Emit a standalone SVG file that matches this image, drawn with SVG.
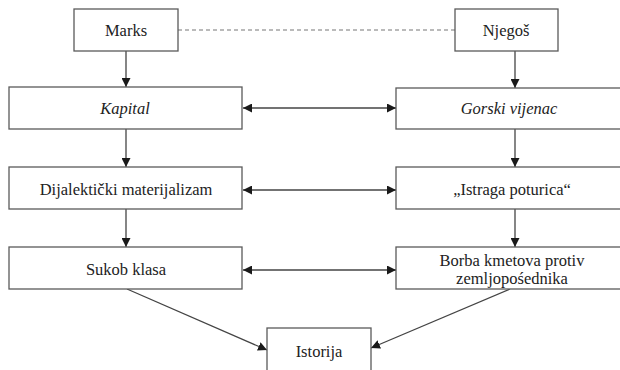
<svg xmlns="http://www.w3.org/2000/svg" width="620" height="370" viewBox="0 0 620 370">
<style>
.box{fill:#fff;stroke:#5a5a5a;stroke-width:1.3}
.t{font-family:"Liberation Serif","DejaVu Serif",serif;font-size:16.5px;fill:#222;text-anchor:middle;dominant-baseline:central}
.i{font-style:italic}
.c{stroke:#444;stroke-width:1.3;fill:none}
.d{stroke:#777;stroke-width:1.1;stroke-dasharray:4 3;fill:none}
</style>
<defs>
<marker id="ah" viewBox="0 0 10 10" refX="10" refY="5" markerWidth="9" markerHeight="9" markerUnits="userSpaceOnUse" orient="auto-start-reverse">
<path d="M0,0 L10,5 L0,10 z" fill="#1a1a1a"/>
</marker>
</defs>
<rect width="620" height="370" fill="#fff"/>
<g id="connectors">
<line class="d" x1="178" y1="30" x2="455" y2="30"/>
<line class="c" x1="126" y1="51" x2="126" y2="87" marker-end="url(#ah)"/>
<line class="c" x1="515" y1="51" x2="515" y2="88" marker-end="url(#ah)"/>
<line class="c" x1="126" y1="129" x2="126" y2="167" marker-end="url(#ah)"/>
<line class="c" x1="515" y1="128" x2="515" y2="167" marker-end="url(#ah)"/>
<line class="c" x1="126" y1="209" x2="126" y2="247" marker-end="url(#ah)"/>
<line class="c" x1="515" y1="209" x2="515" y2="247" marker-end="url(#ah)"/>
<line class="c" x1="243" y1="108" x2="396" y2="108" marker-start="url(#ah)" marker-end="url(#ah)"/>
<line class="c" x1="243" y1="190" x2="396" y2="190" marker-start="url(#ah)" marker-end="url(#ah)"/>
<line class="c" x1="243" y1="270" x2="396" y2="270" marker-start="url(#ah)" marker-end="url(#ah)"/>
<line class="c" x1="127" y1="289" x2="267" y2="350" marker-end="url(#ah)"/>
<line class="c" x1="510" y1="289" x2="371" y2="348" marker-end="url(#ah)"/>
</g>
<g id="marks"><rect class="box" x="74" y="9" width="104" height="42"/><text class="t" x="126" y="30">Marks</text></g>
<g id="njegos"><rect class="box" x="455" y="9" width="103" height="42"/><text class="t" x="506" y="30">Njegoš</text></g>
<g id="kapital"><rect class="box" x="9" y="87" width="233" height="42"/><text class="t i" x="125" y="108">Kapital</text></g>
<g id="gorski"><rect class="box" x="396" y="88" width="230" height="41"/><text class="t i" x="509" y="108">Gorski vijenac</text></g>
<g id="dijalekticki"><rect class="box" x="9" y="167" width="233" height="42"/><text class="t" x="126" y="189">Dijalektički materijalizam</text></g>
<g id="istraga"><rect class="box" x="396" y="167" width="230" height="42"/><text class="t" x="512" y="189">„Istraga poturica“</text></g>
<g id="sukob"><rect class="box" x="9" y="247" width="233" height="42"/><text class="t" x="126" y="269">Sukob klasa</text></g>
<g id="borba"><rect class="box" x="396" y="247" width="230" height="42"/><text class="t" x="512" y="260">Borba kmetova protiv</text><text class="t" x="512" y="278">zemljopośednika</text></g>
<g id="istorija"><rect class="box" x="267" y="328" width="104" height="45"/><text class="t" x="319" y="351">Istorija</text></g>
</svg>
